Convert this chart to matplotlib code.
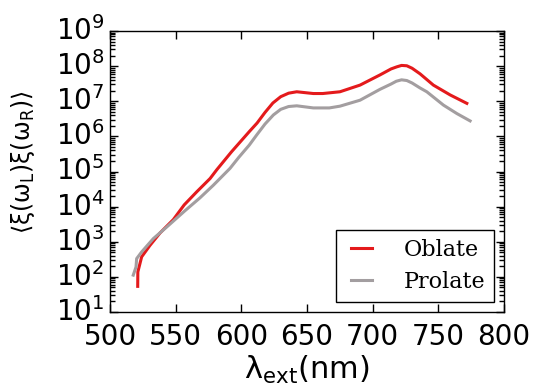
import matplotlib
matplotlib.use("Agg")
import matplotlib.pyplot as plt
import numpy as np

# Values: wavelength (nm) and log10 of the correlation
lam_oblate = [521.1, 521.2, 524.1, 530.5, 538.1, 548.2, 556.5, 566.0, 576.2, 581.3,
              592.5, 606.4, 612.0, 618.0, 624.0, 630.0, 636.0, 642.2, 654.8, 662.0,
              675.1, 690.4, 705.6, 714.0, 718.4, 722.0, 726.0, 730.0, 736.1, 746.2,
              759.0, 771.7]
log_oblate = [1.73, 2.14, 2.57, 2.90, 3.25, 3.63, 4.05, 4.42, 4.80, 5.05,
              5.56, 6.15, 6.38, 6.68, 6.95, 7.13, 7.23, 7.27, 7.22, 7.22,
              7.27, 7.46, 7.75, 7.92, 7.98, 8.02, 8.01, 7.94, 7.78, 7.46,
              7.18, 6.94]
lam_prolate = [517.7, 519.8, 520.3, 524.1, 533.0, 543.2, 557.0, 568.5, 578.7, 591.4,
               598.0, 606.0, 611.7, 618.0, 624.4, 630.0, 636.0, 642.2, 654.8, 667.0,
               675.1, 690.4, 705.6, 714.0, 718.0, 722.0, 726.0, 730.0, 736.0, 741.2,
               753.9, 764.1, 774.2]
log_prolate = [2.05, 2.28, 2.52, 2.71, 3.09, 3.42, 3.88, 4.25, 4.61, 5.09,
               5.40, 5.75, 6.04, 6.35, 6.61, 6.77, 6.85, 6.87, 6.81, 6.81,
               6.86, 7.03, 7.34, 7.49, 7.57, 7.61, 7.59, 7.52, 7.38, 7.27,
               6.89, 6.65, 6.44]
labels = ["Oblate", "Prolate"]
xticks = [500, 550, 600, 650, 700, 750, 800]

plt.style.use("classic")
plt.rcParams['mathtext.default'] = 'regular'
plt.rcParams['mathtext.fontset'] = 'dejavusans'

W, H = 533, 387
fig = plt.figure(figsize=(W/100, H/100), dpi=100, facecolor='white')
# axes box in pixels: left 110, right 504, top 31, bottom 312
ax = fig.add_axes([110/W, 1-312/H, (504-110)/W, (312-31)/H])

ax.plot(lam_oblate, 10**np.array(log_oblate), color='#e41a1c', lw=2.2, label=labels[0])
ax.plot(lam_prolate, 10**np.array(log_prolate), color='#a39ea0', lw=2.2, label=labels[1])

ax.set_yscale('log')
ax.set_xlim(500, 800)
ax.set_ylim(1e1, 1e9)
ax.set_xticks(xticks)
ax.tick_params(labelsize=20)
ax.tick_params(axis='both', which='major', length=6, width=1)
ax.tick_params(axis='both', which='minor', length=3.5, width=1)
ax.tick_params(axis='x', pad=8)
ax.set_xlabel(r'$\lambda_{ext}$(nm)', fontsize=22, labelpad=2)
ax.set_ylabel(r'$\langle\xi(\omega_L)\xi(\omega_R)\rangle$', fontsize=17)
ax.yaxis.set_label_coords(-0.185, 0.535)

leg = ax.legend(loc='lower right', prop={'family': 'DejaVu Serif', 'size': 16},
                fancybox=False, handlelength=1.55, handletextpad=1.1,
                labelspacing=0.45, borderpad=0.4, borderaxespad=0.45)
leg.get_frame().set_edgecolor('black')

fig.savefig('out.png', dpi=100, facecolor='white')
